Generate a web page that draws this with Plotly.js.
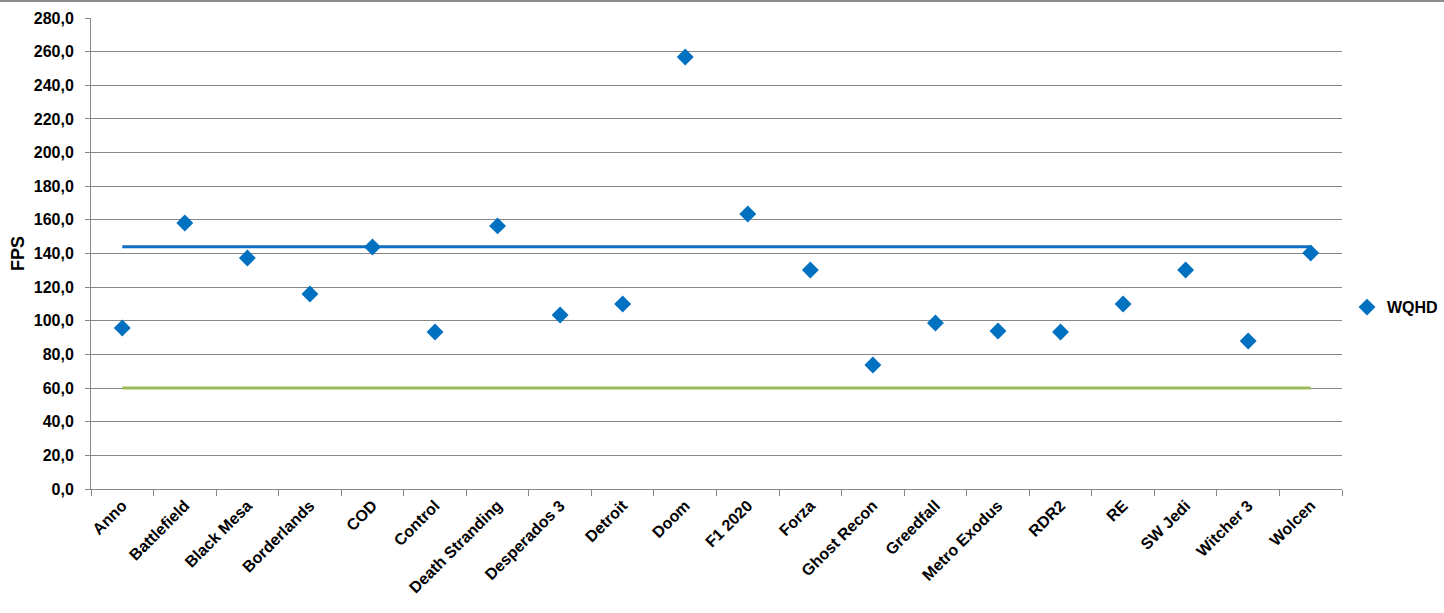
<!DOCTYPE html>
<html>
<head>
<meta charset="utf-8">
<script src="https://cdn.plot.ly/plotly-3.0.1.min.js"></script>
<style>
html,body{margin:0;padding:0;background:#fff;}
#chart{width:1444px;height:613px;box-sizing:border-box;border-top:2px solid #8c8c8c;}
</style>
</head>
<body>
<div id="chart"></div>
<script>
const games = ["Anno","Battlefield","Black Mesa","Borderlands","COD","Control","Death Stranding","Desperados 3","Detroit","Doom","F1 2020","Forza","Ghost Recon","Greedfall","Metro Exodus","RDR2","RE","SW Jedi","Witcher 3","Wolcen"];
const wqhd = [95.7,158.1,137.3,115.9,143.9,93.3,156.4,103.4,110.0,256.8,163.5,130.2,73.7,98.7,93.9,93.3,110.0,130.2,88.0,140.3];
const refHigh = 144;
const refLow = 60;
const yTicks = [0,20,40,60,80,100,120,140,160,180,200,220,240,260,280];

const traces = [
  {x: games, y: games.map(() => refHigh), type: "scatter", mode: "lines", name: "144 Hz",
   line: {color: "#0F6FC0", width: 3}, showlegend: false, hoverinfo: "skip"},
  {x: games, y: games.map(() => refLow), type: "scatter", mode: "lines", name: "60 Hz",
   line: {color: "#9BBB59", width: 3}, showlegend: false, hoverinfo: "skip"},
  {x: games, y: wqhd, type: "scatter", mode: "markers", name: "WQHD",
   marker: {symbol: "diamond", size: 13, color: "#0070C0"}}
];

const fam = "Liberation Sans, Arial, sans-serif";
const bold16 = {family: fam, size: 16, weight: 700, color: "#000"};

const layout = {
  width: 1444, height: 611,
  margin: {l: 91, r: 102, t: 16, b: 124, autoexpand: false},
  paper_bgcolor: "#fff", plot_bgcolor: "#fff",
  separators: ",.",
  font: bold16,
  showlegend: true,
  legend: {x: 1.004, y: 0.386, xanchor: "left", yanchor: "middle",
           font: bold16, itemwidth: 30, tracegroupgap: 0},
  xaxis: {
    type: "category", range: [-0.5, games.length - 0.5], automargin: false,
    tickangle: -45, tickson: "boundaries",
    ticks: "outside", ticklen: 6, tickcolor: "#868686",
    showline: true, linecolor: "#868686", linewidth: 1,
    showgrid: false, zeroline: false,
    tickfont: bold16
  },
  yaxis: {
    range: [0, 280], tickvals: yTicks, tickformat: ".1f", automargin: false,
    ticks: "outside", ticklen: 5, tickcolor: "#868686",
    showline: true, linecolor: "#868686", linewidth: 1,
    showgrid: true, gridcolor: "#868686", gridwidth: 1,
    zeroline: false, ticklabelstandoff: 8,
    tickfont: bold16,
    title: {text: "FPS", standoff: 4, font: {family: fam, size: 18, weight: 700, color: "#000"}}
  }
};

Plotly.newPlot("chart", traces, layout, {displayModeBar: false, responsive: false});
</script>
</body>
</html>
